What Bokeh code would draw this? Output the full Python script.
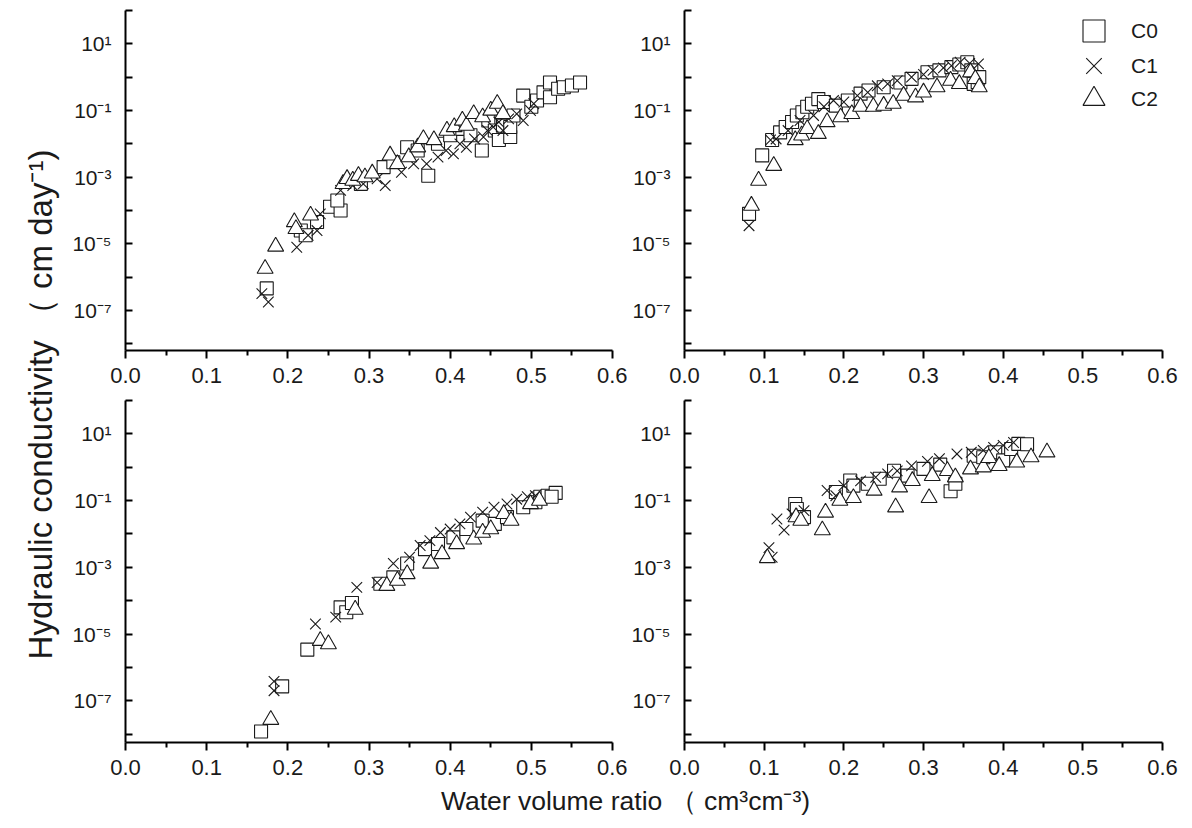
from math import pi
from bokeh.plotting import figure
from bokeh.layouts import row, column
from bokeh.models import FixedTicker, Label, Legend, LegendItem, Range1d
from bokeh.embed import file_html
from bokeh.resources import INLINE

# ---------------- axis ticks ----------------
x_ticks = [0.0, 0.1, 0.2, 0.3, 0.4, 0.5, 0.6]
x_tick_labels = ["0.0", "0.1", "0.2", "0.3", "0.4", "0.5", "0.6"]
x_minor_ticks = [0.05, 0.15, 0.25, 0.35, 0.45, 0.55]
y_ticks = [1e-7, 1e-5, 1e-3, 1e-1, 1e1]
y_tick_labels = ["10\u207b\u2077", "10\u207b\u2075", "10\u207b\u00b3", "10\u207b\u00b9", "10\u00b9"]
y_minor_ticks = [1e-8, 1e-6, 1e-4, 1e-2, 1e0, 1e2]
series_names = ["C0", "C1", "C2"]

x_label_text = "Water volume ratio \uff08 cm\u00b3cm\u207b\u00b3)"
y_label_text = "Hydraulic conductivity \uff08 cm day\u207b\u00b9)"

# ---------------- panel 1 (top left) ----------------
p1_c0_theta = [0.174, 0.216, 0.222, 0.236, 0.252, 0.265, 0.261, 0.290, 0.318, 0.330, 0.347, 0.360,
               0.373, 0.385, 0.400, 0.415, 0.425, 0.439, 0.447, 0.455, 0.460, 0.465, 0.474, 0.474,
               0.478, 0.490, 0.500, 0.507, 0.515, 0.523, 0.523, 0.533, 0.540, 0.550, 0.560]
p1_c0_k = [4.6e-7, 2.5e-5, 1.8e-5, 4.5e-5, 1.3e-4, 1.0e-4, 2.0e-4, 6.3e-4, 2.0e-3, 2.8e-3, 7.9e-3, 6.3e-3,
           1.1e-3, 1.0e-2, 1.8e-2, 2.8e-2, 1.8e-2, 6.3e-3, 5.0e-2, 2.5e-2, 1.3e-2, 3.5e-2, 1.6e-2, 3.2e-2,
           7.1e-2, 0.28, 0.13, 0.20, 0.35, 0.69, 0.25, 0.45, 0.50, 0.56, 0.69]
p1_c1_theta = [0.168, 0.176, 0.211, 0.225, 0.236, 0.240, 0.265, 0.280, 0.293, 0.310, 0.320, 0.340,
               0.355, 0.371, 0.385, 0.395, 0.404, 0.412, 0.420, 0.430, 0.441, 0.446, 0.453, 0.460,
               0.465, 0.472, 0.482, 0.490, 0.499, 0.503]
p1_c1_k = [3.2e-7, 1.8e-7, 7.9e-6, 1.8e-5, 2.5e-5, 7.9e-5, 4.0e-4, 5.6e-4, 6.3e-4, 8.9e-4, 5.6e-4, 1.4e-3,
           2.5e-3, 2.5e-3, 4.0e-3, 6.3e-3, 5.0e-3, 1.0e-2, 7.9e-3, 1.4e-2, 1.6e-2, 2.5e-2, 3.2e-2, 4.5e-2,
           2.5e-2, 5.6e-2, 7.9e-2, 5.0e-2, 0.10, 0.16]
p1_c2_theta = [0.172, 0.185, 0.208, 0.210, 0.228, 0.268, 0.273, 0.280, 0.287, 0.295, 0.304, 0.326,
               0.335, 0.349, 0.360, 0.367, 0.380, 0.396, 0.405, 0.415, 0.420, 0.429, 0.440, 0.450,
               0.458, 0.465]
p1_c2_k = [1.8e-6, 8.3e-6, 4.5e-5, 2.8e-5, 7.1e-5, 6.3e-4, 8.9e-4, 7.9e-4, 1.1e-3, 1.0e-3, 1.3e-3, 4.5e-3,
           2.5e-3, 4.0e-3, 7.9e-3, 1.4e-2, 1.3e-2, 2.5e-2, 3.2e-2, 5.0e-2, 3.5e-2, 7.9e-2, 6.3e-2, 0.10,
           0.16, 7.9e-2]

# ---------------- panel 2 (top right) ----------------
p2_c0_theta = [0.081, 0.0975, 0.110, 0.120, 0.127, 0.135, 0.141, 0.148, 0.154, 0.160, 0.168, 0.175,
               0.190, 0.205, 0.221, 0.231, 0.250, 0.271, 0.285, 0.305, 0.320, 0.335, 0.345, 0.355,
               0.360, 0.363, 0.368, 0.370]
p2_c0_k = [7.9e-5, 4.5e-3, 1.3e-2, 2.2e-2, 3.2e-2, 4.5e-2, 7.1e-2, 8.9e-2, 0.13, 0.16, 0.22, 0.18,
           0.14, 0.20, 0.32, 0.40, 0.50, 0.69, 0.89, 1.4, 1.6, 2.0, 2.4, 2.8,
           1.6, 0.63, 0.71, 1.0]
p2_c1_theta = [0.081, 0.108, 0.115, 0.130, 0.145, 0.162, 0.175, 0.187, 0.200, 0.217, 0.230, 0.242,
               0.255, 0.267, 0.285, 0.300, 0.312, 0.325, 0.335, 0.346, 0.358, 0.369]
p2_c1_k = [3.5e-5, 1.3e-2, 1.4e-2, 2.5e-2, 5.0e-2, 7.1e-2, 0.13, 0.20, 0.18, 0.28, 0.35, 0.55,
           0.63, 0.79, 1.0, 1.2, 1.6, 1.9, 2.2, 2.8, 2.6, 2.5]
p2_c2_theta = [0.084, 0.093, 0.112, 0.139, 0.147, 0.154, 0.168, 0.179, 0.196, 0.210, 0.221, 0.237,
               0.250, 0.262, 0.275, 0.290, 0.300, 0.317, 0.334, 0.345, 0.359, 0.365, 0.370]
p2_c2_k = [1.4e-4, 7.9e-4, 2.2e-3, 1.3e-2, 1.8e-2, 2.8e-2, 2.0e-2, 4.5e-2, 6.3e-2, 7.9e-2, 0.13, 0.13,
           0.14, 0.16, 0.28, 0.25, 0.35, 0.50, 0.79, 0.63, 1.4, 0.89, 0.50]

# ---------------- panel 3 (bottom left) ----------------
p3_c0_theta = [0.167, 0.193, 0.224, 0.265, 0.272, 0.279, 0.314, 0.330, 0.347, 0.369, 0.385, 0.404,
               0.420, 0.440, 0.455, 0.470, 0.490, 0.505, 0.511, 0.520, 0.530, 0.525]
p3_c0_k = [1.2e-8, 2.7e-7, 3.4e-6, 6.3e-5, 4.5e-5, 8.5e-5, 3.2e-4, 5.0e-4, 1.3e-3, 3.5e-3, 5.0e-3, 7.9e-3,
           1.4e-2, 2.5e-2, 2.0e-2, 3.2e-2, 6.3e-2, 8.9e-2, 0.13, 0.14, 0.17, 0.13]
p3_c1_theta = [0.183, 0.183, 0.234, 0.259, 0.285, 0.310, 0.330, 0.350, 0.363, 0.375, 0.388, 0.400,
               0.412, 0.425, 0.440, 0.454, 0.470, 0.482, 0.495, 0.505]
p3_c1_k = [3.8e-7, 2.0e-7, 2.0e-5, 3.2e-5, 2.5e-4, 3.5e-4, 1.3e-3, 2.0e-3, 4.5e-3, 6.3e-3, 1.1e-2, 1.4e-2,
           2.0e-2, 3.2e-2, 4.5e-2, 6.3e-2, 7.9e-2, 0.11, 0.13, 0.14]
p3_c2_theta = [0.179, 0.240, 0.250, 0.283, 0.322, 0.335, 0.347, 0.376, 0.390, 0.408, 0.429, 0.440,
               0.450, 0.466, 0.475, 0.499, 0.510]
p3_c2_k = [2.7e-8, 6.3e-6, 5.0e-6, 5.4e-5, 2.8e-4, 4.0e-4, 6.3e-4, 1.3e-3, 2.5e-3, 5.0e-3, 6.9e-3, 1.1e-2,
           1.4e-2, 4.0e-2, 2.5e-2, 7.9e-2, 0.10]

# ---------------- panel 4 (bottom right) ----------------
p4_c0_theta = [0.139, 0.141, 0.150, 0.190, 0.208, 0.212, 0.230, 0.245, 0.263, 0.280, 0.300, 0.321,
               0.334, 0.340, 0.363, 0.375, 0.390, 0.400, 0.410, 0.419, 0.430]
p4_c0_k = [7.9e-2, 5.6e-2, 3.2e-2, 0.18, 0.40, 0.28, 0.32, 0.45, 0.78, 0.56, 0.89, 1.2,
           0.19, 0.32, 2.2, 2.0, 2.8, 1.6, 3.5, 5.0, 4.9]
p4_c1_theta = [0.106, 0.110, 0.116, 0.125, 0.135, 0.150, 0.179, 0.190, 0.200, 0.221, 0.240, 0.255,
               0.267, 0.285, 0.305, 0.320, 0.342, 0.360, 0.375, 0.388, 0.400, 0.413]
p4_c1_k = [3.9e-3, 2.0e-3, 2.8e-2, 1.3e-2, 4.0e-2, 5.0e-2, 0.20, 0.14, 0.28, 0.39, 0.50, 0.63,
           0.78, 1.1, 1.5, 1.8, 2.5, 2.8, 3.2, 3.9, 4.5, 5.5]
p4_c2_theta = [0.104, 0.140, 0.146, 0.173, 0.177, 0.195, 0.212, 0.238, 0.265, 0.270, 0.286, 0.307,
               0.311, 0.330, 0.340, 0.359, 0.375, 0.382, 0.395, 0.417, 0.435, 0.455]
p4_c2_k = [1.9e-3, 3.2e-2, 2.5e-2, 1.3e-2, 4.4e-2, 0.10, 0.12, 0.20, 6.3e-2, 0.25, 0.39, 0.12,
           0.55, 0.78, 0.50, 0.87, 1.0, 1.9, 1.1, 1.4, 2.0, 2.8]

FONT = "Liberation Sans"
INK = "#1a1a1a"
MARKERS = [("square", 13), ("x", 15), ("triangle", 16)]


def make_panel(series, y_low, border, frame_w, frame_h):
    left, right, top, bottom = border
    p = figure(frame_width=frame_w, frame_height=frame_h, y_axis_type="log",
               x_range=Range1d(0, 0.6), y_range=Range1d(y_low, 100),
               output_backend="svg", toolbar_location=None,
               min_border_left=left, min_border_right=right,
               min_border_top=top, min_border_bottom=bottom,
               outline_line_color=None, background_fill_color="white",
               border_fill_color="white")
    p.xgrid.visible = False
    p.ygrid.visible = False
    renderers = []
    for (xs, ys), (m, s) in zip(series, MARKERS):
        r = p.scatter(xs, ys, marker=m, size=s, fill_color="white",
                      line_color=INK, line_width=1.1)
        renderers.append(r)

    xa = p.xaxis[0]
    xa.ticker = FixedTicker(ticks=x_ticks, minor_ticks=x_minor_ticks)
    xa.major_label_overrides = dict(zip(x_ticks, x_tick_labels))
    xa.major_tick_in = 0
    xa.major_tick_out = 8
    xa.minor_tick_in = 0
    xa.minor_tick_out = 5
    xa.major_label_standoff = 9
    xa.major_label_text_font_size = "22px"

    ya = p.yaxis[0]
    ya.ticker = FixedTicker(ticks=y_ticks, minor_ticks=y_minor_ticks)
    ya.major_label_overrides = dict(zip(y_ticks, y_tick_labels))
    ya.major_tick_in = 7
    ya.major_tick_out = 0
    ya.minor_tick_in = 7
    ya.minor_tick_out = 0
    ya.major_label_standoff = 14
    ya.major_label_text_font_size = "21px"

    for ax in (xa, ya):
        ax.axis_line_width = 2
        ax.axis_line_color = "black"
        ax.major_tick_line_width = 2
        ax.minor_tick_line_width = 2
        ax.major_tick_line_color = "black"
        ax.minor_tick_line_color = "black"
        ax.major_label_text_font = FONT
        ax.major_label_text_color = INK
    return p, renderers


tl, _ = make_panel([(p1_c0_theta, p1_c0_k), (p1_c1_theta, p1_c1_k), (p1_c2_theta, p1_c2_k)],
                   6.3e-9, (65, 15, 10, 48), 487, 340)
tr, tr_r = make_panel([(p2_c0_theta, p2_c0_k), (p2_c1_theta, p2_c1_k), (p2_c2_theta, p2_c2_k)],
                      6.3e-9, (57, 30, 10, 48), 478, 340)
bl, _ = make_panel([(p3_c0_theta, p3_c0_k), (p3_c1_theta, p3_c1_k), (p3_c2_theta, p3_c2_k)],
                   5.6e-9, (65, 15, 2, 40), 487, 342)
br, _ = make_panel([(p4_c0_theta, p4_c0_k), (p4_c1_theta, p4_c1_k), (p4_c2_theta, p4_c2_k)],
                   5.6e-9, (57, 30, 2, 40), 478, 342)

# one single-item legend per series, stacked in the top right corner
legend_y = [292, 257, 224]
for name, r, ly in zip(series_names, tr_r, legend_y):
    tr.add_layout(Legend(items=[LegendItem(label=name, renderers=[r])],
                         location=(382, ly), glyph_width=55, glyph_height=55,
                         padding=0, margin=0, label_standoff=10,
                         border_line_color=None, background_fill_alpha=0,
                         label_text_font=FONT, label_text_font_size="21px",
                         label_text_color=INK))


def label_fig(w, h, text, x, y, angle, size):
    f = figure(width=w, height=h, output_backend="svg", toolbar_location=None,
               x_axis_location=None, y_axis_location=None, min_border=0,
               outline_line_color=None, x_range=Range1d(0, 1), y_range=Range1d(0, 1))
    f.xgrid.visible = False
    f.ygrid.visible = False
    f.add_layout(Label(x=x, y=y, x_units="screen", y_units="screen", text=text, angle=angle,
                       text_align="center", text_baseline="middle", text_font=FONT,
                       text_font_size=size, text_color=INK))
    return f


ylab = label_fig(60, 782, y_label_text, 40, 378, pi / 2, "33px")
xlab = label_fig(1192, 46, x_label_text, 625, 28, 0, "26.5px")

layout = column(row(ylab, column(row(tl, tr), row(bl, br))), xlab)

open("out.html", "w").write(file_html(layout, INLINE))
